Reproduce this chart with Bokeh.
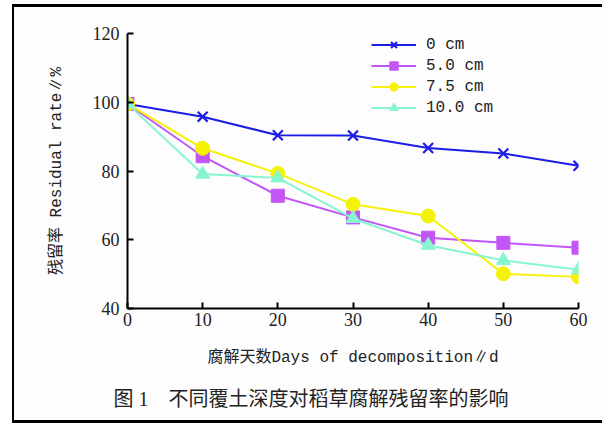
from bokeh.plotting import figure
from bokeh.models import Legend, LegendItem, Title, FixedTicker, Range1d
from bokeh.embed import file_html
from bokeh.resources import INLINE

days = [0, 10, 20, 30, 40, 50, 60]
depth_0 = [99.5, 95.8, 90.4, 90.3, 86.7, 85.1, 81.5]
depth_5 = [99.5, 84.3, 72.8, 66.5, 60.6, 59.1, 57.7]
depth_75 = [99.5, 86.6, 79.3, 70.3, 66.9, 50.1, 49.2]
depth_10 = [99.5, 79.1, 78.0, 66.2, 58.4, 54.0, 51.3]
series_names = ["0 cm", "5.0 cm", "7.5 cm", "10.0 cm"]
x_ticks = [0, 10, 20, 30, 40, 50, 60]
y_ticks = [40, 60, 80, 100, 120]
caption = "图 1\u00a0\u00a0\u00a0 不同覆土深度对稻草腐解残留率的影响"

W, H = 588, 413
p = figure(width=W, height=H, output_backend="svg", toolbar_location=None,
           x_range=Range1d(0, 60), y_range=Range1d(40, 120),
           min_border_left=113, min_border_right=26, min_border_top=26, min_border_bottom=116)
p.styles = {"margin-left": "12px", "margin-top": "4px", "box-sizing": "content-box",
            "border-left": "2px solid black", "border-top": "3px solid black",
            "border-bottom": "3px solid black"}
p.grid.visible = False
p.outline_line_color = None
p.background_fill_color = "#fdfdfd"
p.border_fill_color = "#fdfdfd"

mono = "'Liberation Mono', 'Noto Sans CJK SC'"
serif = "'Liberation Serif'"

for ax in (p.xaxis[0], p.yaxis[0]):
    ax.axis_line_width = 2
    ax.axis_line_color = "black"
    ax.major_tick_in = 6
    ax.major_tick_out = 0
    ax.major_tick_line_width = 2
    ax.minor_tick_line_color = None
    ax.major_label_text_font = serif
    ax.major_label_text_font_size = "18px"
    ax.major_label_text_color = "#222222"
    ax.axis_label_text_font = mono
    ax.axis_label_text_font_size = "16px"
    ax.axis_label_text_font_style = "normal"
    ax.axis_label_text_color = "#222222"
p.xaxis.ticker = FixedTicker(ticks=x_ticks)
p.yaxis.ticker = FixedTicker(ticks=y_ticks)
p.xaxis.major_label_standoff = 4
p.yaxis.major_label_standoff = 8
p.xaxis.axis_label = "腐解天数Days of decomposition∥d"
p.yaxis.axis_label = "残留率 Residual rate∥%"
p.xaxis.axis_label_standoff = 20
p.yaxis.axis_label_standoff = 24

colors = ["#1c1ce6", "#c255f5", "#f5f20a", "#86f5d0"]
data = [depth_0, depth_5, depth_75, depth_10]
markers = ["x", "square", "circle", "triangle"]
sizes = [14, 13, 14, 14]

items = []
for name, ys, c, m, s in zip(series_names, data, colors, markers, sizes):
    r1 = p.line(days, ys, line_color=c, line_width=2)
    if m == "x":
        r2 = p.scatter(days, ys, marker=m, size=s, line_color=c, line_width=2.2)
    else:
        r2 = p.scatter(days, ys, marker=m, size=s, fill_color=c, line_color=c)
    items.append(LegendItem(label=name, renderers=[r1, r2]))

legend = Legend(items=items, location=(244, 190))
legend.background_fill_alpha = 0
legend.border_line_color = None
legend.padding = 0
legend.margin = 0
legend.spacing = 0
legend.glyph_width = 45
legend.glyph_height = 21
legend.label_height = 21
legend.label_standoff = 10
legend.label_text_font = mono
legend.label_text_font_size = "16px"
legend.label_text_color = "#222222"
p.add_layout(legend, "center")

cap = Title(text=caption, align="left", offset=-14, standoff=33,
            text_font="'Liberation Serif', 'Noto Sans CJK SC'", text_font_size="20px",
            text_font_style="normal", text_color="#222222")
p.add_layout(cap, "below")

open("out.html", "w").write(file_html(p, INLINE))
